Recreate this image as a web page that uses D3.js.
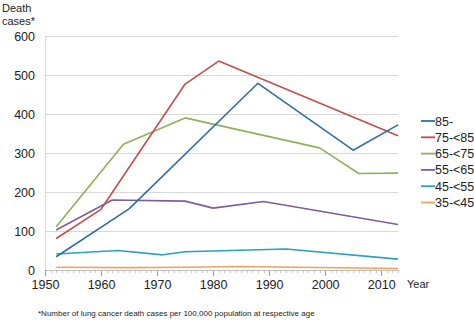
<!DOCTYPE html>
<html><head><meta charset="utf-8">
<script src="https://cdn.jsdelivr.net/npm/d3@7"></script>
<style>body{margin:0;background:#fff;}svg{display:block;font-family:"Liberation Sans",Arial,sans-serif;}</style>
</head><body><svg id="c" width="474" height="322"></svg>
<script>
const seriesNames = ["85-","75-<85","65-<75","55-<65","45-<55","35-<45"];
const seriesColors = ["#2f6f9f","#c0504d","#8fb158","#7a5f99","#2aa3b8","#f0a35e"];
const years85 = [1952,1965,1988,2005,2013];
const vals85  = [34,157,480,308,373];
const years75 = [1952,1960,1975,1981,2013];
const vals75  = [81,156,478,537,345];
const years65 = [1952,1964,1975,1999,2006,2013];
const vals65  = [111,323,391,314,248,249];
const years55 = [1952,1962,1975,1980,1989,2013];
const vals55  = [103,180,177,159,176,117];
const years45 = [1952,1963,1971,1975,1993,2013];
const vals45  = [41,50,39,47,54,28];
const years35 = [1952,1965,1975,1985,1995,2013];
const vals35  = [7,6,7,9,7,4];
const yTicks = [0,100,200,300,400,500,600];
const xTicks = [1950,1960,1970,1980,1990,2000,2010];

const series = [
  {name:seriesNames[0],years:years85,vals:vals85},
  {name:seriesNames[1],years:years75,vals:vals75},
  {name:seriesNames[2],years:years65,vals:vals65},
  {name:seriesNames[3],years:years55,vals:vals55},
  {name:seriesNames[4],years:years45,vals:vals45},
  {name:seriesNames[5],years:years35,vals:vals35}
];

const svg = d3.select("#c");
const x = d3.scaleLinear().domain([1950,2013]).range([45,398]);
const y = d3.scaleLinear().domain([0,600]).range([270,36.6]);

// gridlines
svg.append("g").selectAll("line").data(yTicks.filter(d=>d>0)).join("line")
  .attr("x1",45).attr("x2",398).attr("y1",d=>y(d)).attr("y2",d=>y(d))
  .attr("stroke","#d9d9d9").attr("stroke-width",1).attr("shape-rendering","crispEdges");

// y axis
const yAxis = svg.append("g").attr("transform","translate(45,0)")
  .call(d3.axisLeft(y).tickValues(yTicks).tickSize(0).tickPadding(10));
yAxis.select(".domain").attr("stroke","#d9d9d9");
yAxis.selectAll("text").attr("font-size",12.5).attr("fill","#222").attr("font-family","Liberation Sans, Arial, sans-serif");

// x axis minor
const minor = d3.range(1950,2014);
svg.append("g").selectAll("line").data(minor).join("line")
  .attr("x1",d=>Math.round(x(d))+0.5).attr("x2",d=>Math.round(x(d))+0.5)
  .attr("y1",270).attr("y2",d=>d%10===0?276:273)
  .attr("stroke",d=>d%10===0?"#999":"#c8c8c8").attr("stroke-width",1);
const xAxis = svg.append("g").attr("transform","translate(0,270)")
  .call(d3.axisBottom(x).tickValues(xTicks).tickFormat(d3.format("d")).tickSize(0).tickPadding(10));
xAxis.select(".domain").attr("stroke","#bfbfbf");
xAxis.selectAll("text").attr("font-size",12.5).attr("fill","#222").attr("font-family","Liberation Sans, Arial, sans-serif");

// lines
const line = d3.line().x(d=>x(d[0])).y(d=>y(d[1]));
series.slice().reverse().forEach((s)=>{
  const i = seriesNames.indexOf(s.name);
  svg.append("path").datum(s.years.map((yr,k)=>[yr,s.vals[k]]))
    .attr("d",line).attr("fill","none").attr("stroke",seriesColors[i]).attr("stroke-width",1.6)
    .attr("stroke-linejoin","round");
});

// legend
const leg = svg.append("g");
seriesNames.forEach((n,i)=>{
  const yy = 121 + i*16.3;
  leg.append("line").attr("x1",421).attr("x2",435).attr("y1",yy).attr("y2",yy)
    .attr("stroke",seriesColors[i]).attr("stroke-width",1.8);
  leg.append("text").attr("x",435).attr("y",yy+4.5).text(n)
    .attr("font-size",12.5).attr("fill","#222");
});

// titles
svg.append("text").attr("x",2).attr("y",12).text("Death").attr("font-size",11).attr("fill","#222");
svg.append("text").attr("x",2).attr("y",25).text("cases*").attr("font-size",11).attr("fill","#222");
svg.append("text").attr("x",407).attr("y",288).text("Year").attr("font-size",11).attr("fill","#222");
svg.append("text").attr("x",38).attr("y",316).text("*Number of lung cancer death cases per 100,000 population at respective age")
  .attr("font-size",8).attr("fill","#222");
</script></body></html>
